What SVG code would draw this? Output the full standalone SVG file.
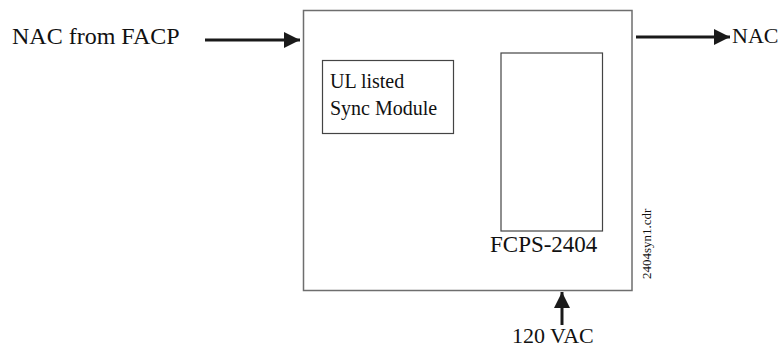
<svg xmlns="http://www.w3.org/2000/svg" width="784" height="347" viewBox="0 0 784 347">
<style>
  .t { font-family: "Liberation Serif", "Times New Roman", "DejaVu Serif", serif; fill: #111; }
  .box { fill: none; stroke: #6e6e6e; stroke-width: 1.5; }
  .inner { fill: none; stroke: #444; stroke-width: 1.2; }
  .wire { stroke: #1a1a1a; stroke-width: 3; fill: none; }
</style>
<defs>
  <marker id="ah" markerUnits="userSpaceOnUse" markerWidth="16" markerHeight="16" refX="16" refY="8" orient="auto">
    <path d="M0,0 L16,8 L0,16 Z" fill="#1a1a1a"/>
  </marker>
</defs>
<rect width="784" height="347" fill="#fff"/>
<g id="main">
  <rect class="box" x="303.5" y="10.5" width="328.5" height="280"/>
  <text class="t" x="651" y="279" font-size="13" transform="rotate(-90 651 279)">2404syn1.cdr</text>
</g>
<g id="sync">
  <rect class="inner" x="322.5" y="60.5" width="131" height="73"/>
  <text class="t" x="330" y="88" font-size="20">UL listed</text>
  <text class="t" x="330" y="115" font-size="20">Sync Module</text>
</g>
<g id="fcps">
  <rect class="inner" x="501" y="53" width="101.5" height="178"/>
  <text class="t" x="490" y="252" font-size="23">FCPS-2404</text>
</g>
<g id="nac-in">
  <text class="t" x="12" y="44" font-size="24">NAC from FACP</text>
</g>
<g id="nac-out">
  <text class="t" x="732" y="43" font-size="22">NAC</text>
</g>
<g id="vac">
  <text class="t" x="512" y="343" font-size="22">120 VAC</text>
</g>
<g id="connectors">
  <line class="wire" x1="205" y1="40" x2="300" y2="40" marker-end="url(#ah)"/>
  <line class="wire" x1="636" y1="37" x2="730" y2="37" marker-end="url(#ah)"/>
  <line class="wire" x1="562" y1="325" x2="562" y2="292" marker-end="url(#ah)"/>
</g>
</svg>
